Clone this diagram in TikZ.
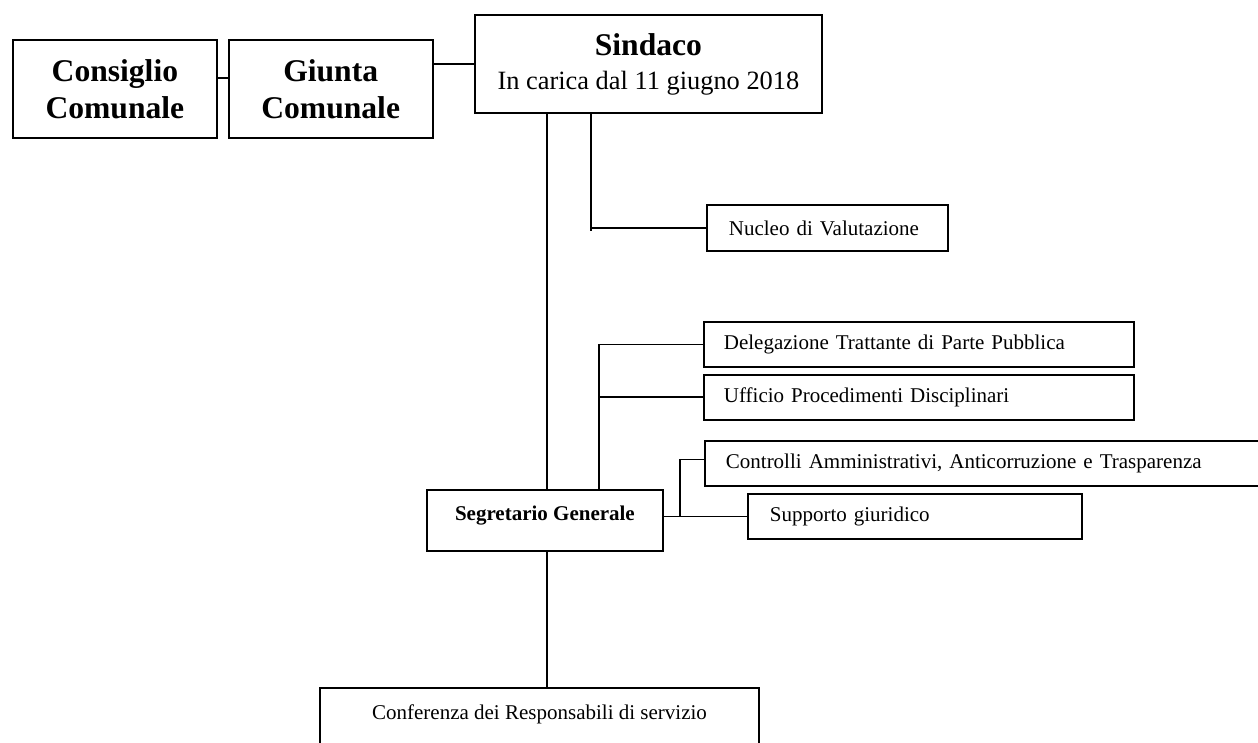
\documentclass[tikz,border=0pt]{standalone}
\usepackage{fontspec}
\setmainfont{Liberation Serif}
\usepackage{tikz}
\usetikzlibrary{positioning}
\newcommand{\headfont}{\fontsize{31.6}{37}\selectfont}
\newcommand{\datefont}{\fontsize{26.4}{34}\selectfont}
\newcommand{\unitfont}{\fontsize{21}{25}\selectfont}

\begin{document}
\begin{tikzpicture}[x=1pt, y=-1pt,
    box/.style={draw, line width=1.8pt, rectangle, inner ysep=0pt, anchor=north west},
    organ/.style={box, minimum width=204pt, minimum height=98pt, align=center, font=\headfont\bfseries},
    unit/.style={box, minimum height=45pt, align=left, font=\unitfont},
    link/.style={line width=1.5pt}
]
\useasboundingbox (0,0) rectangle (1258,742);
\clip (0,0) rectangle (1258,742);

% Organi di governo
\node[organ] (consiglio) at (12,39) {Consiglio\\Comunale};
\node[organ, right=10pt of consiglio] (giunta) {Giunta\\Comunale};
\node[box, minimum width=347pt, minimum height=98pt, align=center, font=\datefont] (sindaco) at (474,14) {{\headfont\bfseries Sindaco}\\In carica dal 11 giugno 2018};

% Segretario e uffici di staff
\node[box, minimum width=236pt, minimum height=61pt, font=\unitfont\bfseries, text height=14pt, text depth=14pt] (segretario) at (426,489) {Segretario Generale};
\node[unit, minimum height=46pt, text width=197pt, inner xsep=22pt] (nucleo) at (706,204) {Nucleo di Valutazione};
\node[unit, text width=390pt, inner xsep=20pt] (delega) at (703,321) {Delegazione Trattante di Parte Pubblica};
\node[unit, text width=390pt, inner xsep=20pt, below=6pt of delega] (ufficio) {Ufficio Procedimenti Disciplinari};
\node[unit, text width=558pt, inner xsep=21pt] (controlli) at (704,440) {Controlli Amministrativi, Anticorruzione e Trasparenza};
\node[unit, text width=290pt, inner xsep=22pt] (supporto) at (747,493) {Supporto giuridico};

% Conferenza (tagliata in basso)
\node[box, anchor=north, minimum width=439pt, font=\unitfont, text height=32pt, text depth=70pt] (conferenza) at (539.5,687) {Conferenza dei Responsabili di servizio};

% Linee di collegamento
\coordinate (spine) at (547,0);
\coordinate (nbranch) at (591,231);
\coordinate (dbranch) at (599,0);
\coordinate (cbranch) at (680,0);

\draw[link] ([yshift=11pt]consiglio.east) -- ([yshift=11pt]giunta.west);
\draw[link] (giunta.east |- sindaco.west) -- (sindaco.west);
\draw[link] (sindaco.south -| spine) -- (segretario.north -| spine);
\draw[link] (sindaco.south -| nbranch) -- (nbranch);
\draw[link] (nbranch |- nucleo.west) -- (nucleo.west);
\draw[link] (segretario.north -| dbranch) |- (delega.west);
\draw[link] (dbranch |- ufficio.west) -- (ufficio.west);
\draw[link] (segretario.east |- supporto.west) -- (supporto.west);
\draw[link] (cbranch |- supporto.west) |- ([yshift=4pt]controlli.west);
\draw[link] (segretario.south -| spine) -- (conferenza.north -| spine);
\end{tikzpicture}
\end{document}
